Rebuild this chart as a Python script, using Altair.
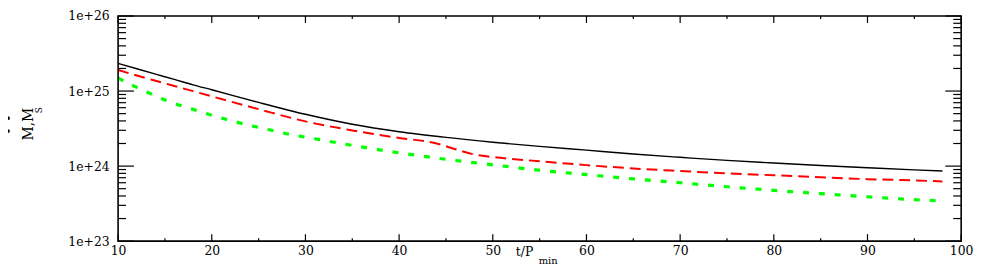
import altair as alt
import pandas as pd

# ---- data ----
t_black = [10, 12, 14, 16, 18, 20, 25, 30, 35, 40, 45, 50, 55, 60, 65, 70, 75, 80, 85, 90, 95, 98]
m_black = [2.34e25, 1.98e25, 1.68e25, 1.43e25, 1.21e25, 1.04e25, 7.05e24, 4.9e24, 3.61e24, 2.87e24,
           2.41e24, 2.08e24, 1.83e24, 1.63e24, 1.45e24, 1.31e24, 1.19e24, 1.10e24, 1.02e24, 9.5e23,
           8.9e23, 8.6e23]

t_red = [10, 12, 14, 16, 18, 20, 25, 30, 35, 40, 43, 44, 46, 48, 50, 55, 60, 65, 70, 75, 80, 85, 90, 95, 98]
m_red = [1.91e25, 1.61e25, 1.37e25, 1.17e25, 9.97e24, 8.5e24, 5.74e24, 3.94e24, 2.99e24, 2.37e24,
         2.12e24, 2.0e24, 1.68e24, 1.43e24, 1.32e24, 1.16e24, 1.03e24, 9.3e23, 8.6e23, 8.0e23,
         7.55e23, 7.1e23, 6.7e23, 6.44e23, 6.25e23]

t_green = [10, 11, 12, 13, 14, 15, 16, 18, 20, 22, 24, 26, 28, 30, 32, 34, 36, 38, 40, 42, 44, 46,
           48, 50, 55, 60, 65, 70, 75, 80, 85, 90, 95, 98]
m_green = [1.5e25, 1.28e25, 1.12e25, 9.8e24, 8.6e24, 7.6e24, 6.85e24, 5.7e24, 4.75e24, 4.05e24,
           3.5e24, 3.08e24, 2.7e24, 2.43e24, 2.2e24, 1.98e24, 1.8e24, 1.64e24, 1.5e24, 1.39e24,
           1.28e24, 1.19e24, 1.11e24, 1.04e24, 8.8e23, 7.7e23, 6.75e23, 6.0e23, 5.3e23, 4.75e23,
           4.3e23, 3.9e23, 3.57e23, 3.42e23]

x_major = [10, 20, 30, 40, 50, 60, 70, 80, 90, 100]
x_minor = [15, 25, 35, 45, 55, 65, 75, 85, 95]
y_major = [1e23, 1e24, 1e25, 1e26]
y_minor = [k * 10.0 ** e for e in (23, 24, 25) for k in range(2, 10)]

W, H = 850, 227
TOP = 7
FONT = "DejaVu Serif"

xs = alt.Scale(domain=[10, 100], nice=False, zero=False)
ys = alt.Scale(type="log", domain=[1e23, 1e26], nice=False)

xaxis = alt.Axis(values=x_major, title=None, ticks=False, tickSize=0, domain=False, grid=False,
                 labelFont=FONT, labelFontSize=12.5, labelColor="black", labelPadding=3,
                 labelFlush=False, labelOverlap=False)
yaxis = alt.Axis(values=y_major, title=None, ticks=False, tickSize=0, domain=False, grid=False,
                 labelFont=FONT, labelFontSize=12.5, labelColor="black", labelPadding=9,
                 labelFlush=False, labelOverlap=False,
                 labelExpr="'1e+' + round(log(datum.value) / LN10)")

X = alt.X("t:Q", scale=xs, axis=xaxis)
Y = alt.Y("m:Q", scale=ys, axis=yaxis)

df_b = pd.DataFrame({"t": t_black, "m": m_black})
df_r = pd.DataFrame({"t": t_red, "m": m_red})
df_g = pd.DataFrame({"t": t_green, "m": m_green})

black = alt.Chart(df_b).mark_line(color="black", strokeWidth=1.4, interpolate="monotone").encode(x=X, y=Y)
red = alt.Chart(df_r).mark_line(color="#ff0000", strokeWidth=2, strokeDash=[11, 6],
                                interpolate="monotone").encode(x=X, y=Y)
green = alt.Chart(df_g).mark_line(color="#00ff00", strokeWidth=3.2, strokeDash=[6, 10],
                                  interpolate="monotone").encode(x=X, y=Y)

# inward ticks on all four sides
dxM = pd.DataFrame({"t": x_major})
dxm = pd.DataFrame({"t": x_minor})
dyM = pd.DataFrame({"m": y_major})
dym = pd.DataFrame({"m": y_minor})


def xticks(df, length):
    bot = alt.Chart(df).mark_rule(color="black", strokeWidth=1.2).encode(
        x=X, y=alt.value(H), y2=alt.value(H - length))
    top = alt.Chart(df).mark_rule(color="black", strokeWidth=1.2).encode(
        x=X, y=alt.value(0), y2=alt.value(length))
    return [bot, top]


def yticks(df, length):
    left = alt.Chart(df).mark_rule(color="black", strokeWidth=1.2).encode(
        y=Y, x=alt.value(0), x2=alt.value(length))
    right = alt.Chart(df).mark_rule(color="black", strokeWidth=1.2).encode(
        y=Y, x=alt.value(W), x2=alt.value(W - length))
    return [left, right]


ticks = xticks(dxM, 7) + xticks(dxm, 3) + yticks(dyM, 16) + yticks(dym, 8)

# frame
frame = alt.Chart(pd.DataFrame({"a": [0]})).mark_rect(
    fill=None, stroke="black", strokeWidth=1.6).encode(
    x=alt.value(0), x2=alt.value(W), y=alt.value(0), y2=alt.value(H))

# axis titles (positions relative to the plot area)
base_txt = alt.Chart(pd.DataFrame({"a": [0]}))
xt1 = base_txt.mark_text(text="t/P", font=FONT, fontSize=12.5, align="left",
                         baseline="alphabetic", color="black").encode(
    x=alt.value(401), y=alt.value(242))
xt2 = base_txt.mark_text(text="min", font=FONT, fontSize=10, align="left",
                         baseline="alphabetic", color="black").encode(
    x=alt.value(424), y=alt.value(250))
yt1 = base_txt.mark_text(text="M,M", font=FONT, fontSize=14, angle=270, align="center",
                         baseline="alphabetic", color="black").encode(
    x=alt.value(-86), y=alt.value(109))
yt2 = base_txt.mark_text(text="S", font=FONT, fontSize=9, angle=270, align="center",
                         baseline="middle", color="black").encode(
    x=alt.value(-80), y=alt.value(95))
dot1 = base_txt.mark_circle(color="black", size=14, opacity=1).encode(
    x=alt.value(-111), y=alt.value(103))
dot2 = base_txt.mark_circle(color="black", size=14, opacity=1).encode(
    x=alt.value(-111), y=alt.value(116))

chart = alt.layer(
    black, red, green, *ticks, frame, xt1, xt2, yt1, yt2, dot1, dot2
).properties(
    width=W, height=H,
    padding={"left": 111, "top": TOP, "right": 20, "bottom": 25},
    autosize=alt.AutoSizeParams(type="none"),
    background="white",
).configure_view(stroke=None)

chart.save("out.html", embed_options={"renderer": "svg", "actions": False})
